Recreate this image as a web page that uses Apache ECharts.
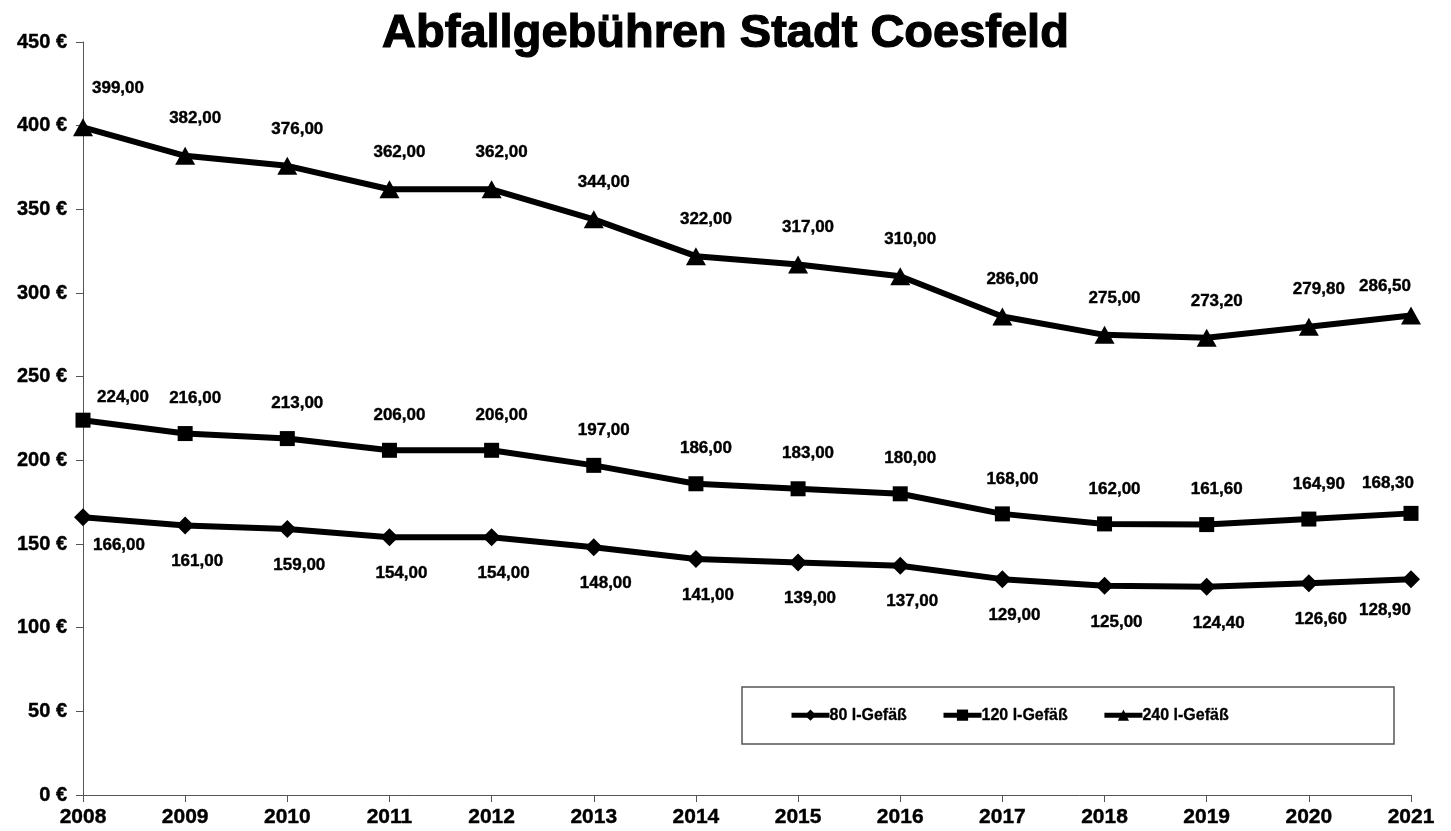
<!DOCTYPE html>
<html>
<head>
<meta charset="utf-8">
<script src="https://cdn.jsdelivr.net/npm/echarts@6/dist/echarts.min.js"></script>
<style>
html,body{margin:0;padding:0;background:#fff;}
#c{width:1451px;height:831px;}
</style>
</head>
<body>
<div id="c"></div>
<script>
const title = 'Abfallgebühren Stadt Coesfeld';
const years = ['2008','2009','2010','2011','2012','2013','2014','2015','2016','2017','2018','2019','2020','2021'];
const names = ['80 l-Gefäß', '120 l-Gefäß', '240 l-Gefäß'];
const v80  = [166, 161, 159, 154, 154, 148, 141, 139, 137, 129, 125, 124.4, 126.6, 128.9];
const v120 = [224, 216, 213, 206, 206, 197, 186, 183, 180, 168, 162, 161.6, 164.9, 168.3];
const v240 = [399, 382, 376, 362, 362, 344, 322, 317, 310, 286, 275, 273.2, 279.8, 286.5];

const FONT = '"Liberation Sans", Arial, sans-serif';
const fmt = v => v.toFixed(2).replace('.', ',');

function mkSeries(name, vals, symbol, size, off, firstOff, lastOff) {
  return {
    name: name,
    type: 'line',
    data: vals.map((v, i) => {
      const item = { value: v };
      if (i === 0) item.label = { offset: firstOff };
      if (i === vals.length - 1) item.label = { offset: lastOff };
      return item;
    }),
    symbol: symbol,
    symbolSize: size,
    showAllSymbol: true,
    lineStyle: { color: '#000', width: 6 },
    itemStyle: { color: '#000' },
    label: {
      show: true,
      position: 'inside',
      offset: off,
      formatter: p => fmt(p.value),
      color: '#000',
      fontFamily: FONT,
      fontWeight: 'bold',
      fontSize: 17,
      textBorderColor: '#000',
      textBorderWidth: 0.4
    },
    emphasis: { disabled: true },
    animation: false
  };
}

const chart = echarts.init(document.getElementById('c'), null, { renderer: 'canvas' });
chart.setOption({
  backgroundColor: '#fff',
  animation: false,
  title: {
    text: title,
    left: 'center',
    top: 6,
    textStyle: { fontFamily: FONT, fontWeight: 'bold', fontSize: 47, color: '#000', textBorderColor: '#000', textBorderWidth: 1.2 }
  },
  grid: { left: 83, right: 40, top: 42, bottom: 36, containLabel: false },
  graphic: [{
    type: 'rect',
    shape: { x: 742, y: 687, width: 652, height: 57 },
    style: { fill: '#fff', stroke: '#555', lineWidth: 1.5 },
    z: 0
  }],
  legend: {
    left: 789,
    top: 707,
    orient: 'horizontal',
    data: names,
    itemWidth: 38,
    itemHeight: 14,
    itemGap: 34,
    padding: 0,
    textStyle: { fontFamily: FONT, fontWeight: 'bold', fontSize: 16, color: '#000', padding: [0, 0, 0, -5], textBorderColor: '#000', textBorderWidth: 0.3 },
    itemStyle: { color: '#000' },
    lineStyle: { color: '#000', width: 5 },
    z: 5
  },
  xAxis: {
    type: 'category',
    data: years,
    boundaryGap: false,
    axisLine: { lineStyle: { color: '#555', width: 1 } },
    axisTick: { show: true, length: 7, inside: false, lineStyle: { color: '#555' } },
    axisLabel: { color: '#000', fontFamily: FONT, fontWeight: 'bold', fontSize: 21, margin: 12, textBorderColor: '#000', textBorderWidth: 0.4 },
    splitLine: { show: false }
  },
  yAxis: {
    type: 'value',
    min: 0, max: 450, interval: 50,
    axisLine: { show: true, lineStyle: { color: '#555', width: 1 } },
    axisTick: { show: true, length: 7, inside: false, lineStyle: { color: '#555' } },
    axisLabel: { color: '#000', fontFamily: FONT, fontWeight: 'bold', fontSize: 20, margin: 16, formatter: v => v + ' €', textBorderColor: '#000', textBorderWidth: 0.4 },
    splitLine: { show: false }
  },
  series: [
    mkSeries(names[0], v80, 'diamond', 18, [12, 36], [36, 28], [-26, 31]),
    mkSeries(names[1], v120, 'rect', 15, [10, -35], [40, -23], [-23, -30]),
    mkSeries(names[2], v240, 'triangle', [20, 18], [10, -37], [35, -39], [-26, -29])
  ]
});
</script>
</body>
</html>
